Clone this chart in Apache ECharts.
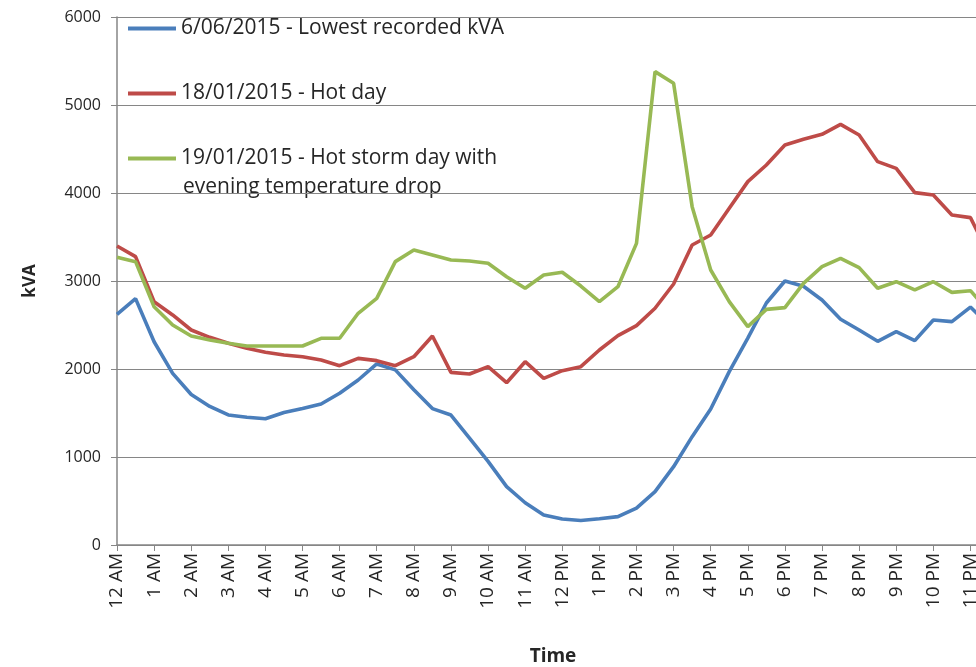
<!DOCTYPE html>
<html>
<head>
<meta charset="utf-8">
<script src="https://cdn.jsdelivr.net/npm/echarts@6/dist/echarts.min.js"></script>
<style>
  html, body { margin: 0; padding: 0; background: #fff; overflow: hidden; }
  #chart { width: 976px; height: 667px; }
</style>
</head>
<body>
<div id="chart"></div>
<script>
// half-hourly readings, 12 AM .. 11:30 PM
var hours = ['12', '1', '2', '3', '4', '5', '6', '7', '8', '9', '10', '11'];
var times = [];
['AM', 'PM'].forEach(function (p) {
    hours.forEach(function (h) {
        times.push(h + ' ' + p);
        times.push(h + ':30 ' + p);
    });
});

var seriesNames = [
    '6/06/2015 - Lowest recorded kVA',
    '18/01/2015 - Hot day',
    '19/01/2015 - Hot storm day with'
];

var lowestDay = [
    2620, 2800, 2310, 1950, 1710, 1575, 1478, 1452, 1435, 1505, 1550, 1602,
    1724, 1875, 2057, 1990, 1765, 1550, 1477, 1215, 950, 663, 480, 340,
    295, 278, 299, 322, 420, 606, 890, 1231, 1545, 1970, 2350, 2750,
    3000, 2940, 2784, 2565, 2443, 2315, 2424, 2322, 2557, 2538, 2704, 2500
];

var hotDay = [
    3398, 3277, 2765, 2614, 2443, 2360, 2292, 2235, 2190, 2159, 2140, 2102,
    2038, 2121, 2095, 2038, 2140, 2375, 1962, 1943, 2026, 1844, 2083, 1894,
    1981, 2026, 2216, 2379, 2493, 2690, 2966, 3409, 3523, 3826, 4129, 4318,
    4545, 4610, 4667, 4780, 4659, 4356, 4280, 4004, 3977, 3750, 3720, 3300
];

var stormDay = [
    3269, 3220, 2708, 2500, 2375, 2330, 2292, 2261, 2261, 2261, 2261, 2349,
    2349, 2633, 2803, 3220, 3352, 3296, 3239, 3227, 3201, 3049, 2917, 3068,
    3099, 2943, 2765, 2935, 3428, 5379, 5247, 3845, 3125, 2765, 2481, 2678,
    2697, 2974, 3163, 3258, 3152, 2917, 2992, 2898, 2992, 2871, 2890, 2650
];

var colors = ['#4a7ebb', '#be4b48', '#98b954'];
var axisGrey = '#868686';
var textColor = '#262626';
var font = 'Open Sans';

var myChart = echarts.init(document.getElementById('chart'));

function mkSeries(name, data) {
    return {
        name: name,
        type: 'line',
        data: data,
        showSymbol: false,
        symbol: 'none',
        lineStyle: { width: 3.6 },
        emphasis: { disabled: true }
    };
}

myChart.setOption({
    animation: false,
    color: colors,
    textStyle: { fontFamily: font },
    grid: { left: 117, top: 17, bottom: 122, right: -13, outerBoundsMode: 'none' },
    legend: {
        orient: 'vertical',
        left: 128,
        top: 18,
        padding: 0,
        itemGap: 44,
        itemWidth: 48,
        itemHeight: 4,
        icon: 'rect',
        textStyle: { fontSize: 21, color: textColor, fontFamily: font },
        data: seriesNames
    },
    graphic: [{
        type: 'text',
        left: 183,
        top: 177,
        style: {
            text: 'evening temperature drop',
            fontSize: 21,
            fontFamily: font,
            fill: textColor
        }
    }],
    xAxis: {
        type: 'category',
        data: times,
        boundaryGap: false,
        name: 'Time',
        nameLocation: 'middle',
        nameGap: 102,
        nameTextStyle: { fontSize: 19, fontWeight: 'bold', color: textColor },
        axisLine: { lineStyle: { color: axisGrey, width: 1.5 } },
        axisTick: { interval: 1, length: 6, lineStyle: { color: axisGrey } },
        axisLabel: {
            interval: 1,
            rotate: 90,
            margin: 8,
            fontSize: 19,
            color: textColor
        },
        splitLine: { show: false }
    },
    yAxis: {
        type: 'value',
        min: 0,
        max: 6000,
        interval: 1000,
        name: 'kVA',
        nameLocation: 'middle',
        nameGap: 78,
        nameTextStyle: { fontSize: 17, fontWeight: 'bold', color: textColor },
        axisLine: { show: true, lineStyle: { color: axisGrey, width: 1.5 } },
        axisTick: { show: true, length: 6, lineStyle: { color: axisGrey } },
        axisLabel: {
            margin: 16,
            fontSize: 16,
            color: textColor,
            formatter: function (v) { return String(v); }
        },
        splitLine: { lineStyle: { color: axisGrey, width: 1.2 } }
    },
    series: [
        mkSeries(seriesNames[0], lowestDay),
        mkSeries(seriesNames[1], hotDay),
        mkSeries(seriesNames[2], stormDay)
    ]
});
</script>
</body>
</html>
